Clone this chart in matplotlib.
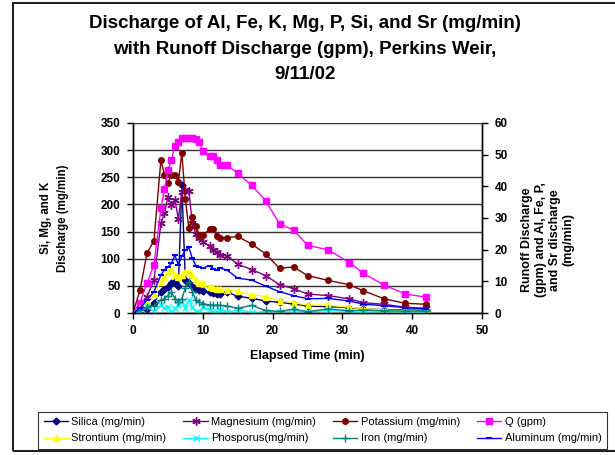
import matplotlib
matplotlib.use("Agg")
import matplotlib.pyplot as plt
from matplotlib.patches import Rectangle

plt.rcParams['font.family'] = ['Liberation Sans', 'DejaVu Sans']

time_min = [0, 1, 2, 3, 4, 4.5, 5, 5.5, 6, 6.5, 7, 7.5, 8, 8.5, 9, 9.5, 10, 11, 11.5,
            12, 12.5, 13.5, 15, 17, 19, 21, 23, 25, 28, 31, 33, 36, 39, 42]

# left axis (mg/min)
silica = [0, 3, 8, 19, 39, 44, 48, 55, 57, 50, 235, 60, 55, 50, 45, 42, 41, 39, 36,
          35, 35, 38, 31, 27, 22, 19.7, 16.6, 12.9, 11.7, 9.8, 8, 6, 5.5, 5]
magnesium = [0, 8, 30, 60, 165, 184, 214, 199, 208, 174, 223, 227, 225, 165, 145, 138, 130, 124, 116,
             112, 107, 105, 90, 80, 69, 52, 45, 35, 32, 26, 19, 16, 10.5, 8.6]
potassium = [0, 42, 110, 133, 282, 255, 240, 254, 255, 242, 294, 210, 156, 177, 160, 144, 144, 154, 154,
             142, 139, 139, 141, 127, 109, 82, 85, 69, 60, 52, 41, 26, 18, 16]

# right axis (gpm and mg/min)
q_gpm = [0, 3.3, 9.4, 15.2, 33, 39, 45, 48.3, 52.8, 54, 55.4, 55.4, 55.4, 55.4, 54.8, 54, 51.2, 49.7, 49.7,
         48.2, 46.7, 46.7, 44.1, 40.3, 35.5, 28.1, 26.2, 21.4, 19.9, 15.9, 12.5, 8.8, 6.0, 5.0]
strontium = [0, 1.5, 3.8, 6, 9.9, 11.5, 13, 13.6, 12, 11.5, 12, 13, 13, 12, 10.4, 9.6, 9.4, 8.3, 7.8,
             7.6, 7.5, 7.3, 6.8, 5.7, 5.2, 3.8, 3.3, 2.5, 2.5, 1.8, 1.4, 0.9, 0.7, 0.5]
phosphorus = [0, 0.5, 2.2, 0.4, 2.5, 1.5, 2, 0.1, 1.5, 2.5, 3.6, 1.5, 4.1, 2, 0.4, 0.2, 2, 1, 0.2,
              0.2, 1, 0.2, 1, 0.2, 0.4, 0.4, 0.7, 0.2, 0.9, 0.3, 0.3, 0.4, 0.3, 0.3]
iron = [0, 0.8, 1.8, 2.2, 4.1, 4.5, 5.5, 6.7, 4.5, 3.6, 4.5, 8, 9.9, 6.7, 4.1, 3.5, 3, 2.5, 2.5,
        2.5, 2.4, 2.2, 1.5, 2.4, 0.8, 0.5, 1.2, 0.4, 1.3, 0.7, 0.9, 0.7, 0.6, 0.6]
aluminum = [0, 1.5, 4.1, 6.7, 12, 13.6, 14.5, 15.7, 18.3, 15.2, 18, 19.9, 20.7, 17.3, 15, 14.5, 14.2, 15, 14,
            13.5, 14.2, 13.5, 11, 10.4, 8.5, 6.7, 5.5, 4.5, 4.6, 3.8, 2.8, 2.3, 1.7, 1.3]

x_ticks = [0, 10, 20, 30, 40, 50]
left_ticks = [0, 50, 100, 150, 200, 250, 300, 350]
right_ticks = [0, 10, 20, 30, 40, 50, 60]

fig = plt.figure(figsize=(6.15, 4.55), dpi=100)
ax = fig.add_axes([133/615, 1-313/455, (482-133)/615, (313-123)/455])
ax2 = ax.twinx()

lw = 1.0
ms = 4
ax.plot(time_min, silica, color='#000080', marker='D', ms=3.5, lw=lw, label='Silica (mg/min)')
ax.plot(time_min, magnesium, color='#800080', marker=(6, 2, 0), ms=6, mew=1, lw=lw, label='Magnesium (mg/min)')
ax.plot(time_min, potassium, color='#800000', marker='o', ms=ms, lw=lw, label='Potassium (mg/min)')
ax2.plot(time_min, q_gpm, color='#FF00FF', marker='s', ms=ms, lw=lw, label='Q (gpm)')
ax2.plot(time_min, strontium, color='#FFFF00', marker='^', ms=5, lw=lw, label='Strontium (mg/min)')
ax2.plot(time_min, phosphorus, color='#00FFFF', marker='x', ms=5, mew=1, lw=lw, label='Phosporus(mg/min)')
ax2.plot(time_min, iron, color='#008080', marker='+', ms=6, mew=1, lw=lw, label='Iron (mg/min)')
ax2.plot(time_min, aluminum, color='#0000FF', marker='_', ms=4, mew=1.5, lw=lw, label='Aluminum (mg/min)')

ax.set_xlim(0, 50)
ax.set_ylim(0, 350)
ax2.set_ylim(0, 60)
ax.set_xticks(x_ticks)
ax.set_yticks(left_ticks)
ax2.set_yticks(right_ticks)
ax.yaxis.grid(True, color='#333333', lw=1)
ax.set_axisbelow(True)

for a in (ax, ax2):
    a.spines['top'].set_visible(False)
    for s in ('left', 'right', 'bottom'):
        a.spines[s].set_color('black')
        a.spines[s].set_linewidth(1)
    a.tick_params(direction='out', length=4, width=1, labelsize=8.5, pad=5)
    for lab in a.get_xticklabels() + a.get_yticklabels():
        lab.set_fontweight('bold')

ax.set_xlabel('Elapsed Time (min)', fontsize=9, fontweight='bold', labelpad=9)
fig.text(0.089, 1-218/455, 'Si, Mg, and K\nDischarge (mg/min)', rotation=90, ha='center', va='center',
         fontsize=8.3, fontweight='bold', linespacing=1.5)
fig.text(0.891, 1-240/455, 'Runoff Discharge\n(gpm) and Al, Fe, P,\nand Sr discharge\n(mg/min)', rotation=90,
         ha='center', va='center', fontsize=9, fontweight='bold', linespacing=1.2)

fig.text(0.496, 1-49/455, 'Discharge of Al, Fe, K, Mg, P, Si, and Sr (mg/min)\nwith Runoff Discharge (gpm), Perkins Weir,\n9/11/02',
         ha='center', va='center', fontsize=13.5, fontweight='bold', linespacing=1.65)

h1, l1 = ax.get_legend_handles_labels()
h2, l2 = ax2.get_legend_handles_labels()
hd = dict(zip(l1 + l2, h1 + h2))
order = ['Silica (mg/min)', 'Strontium (mg/min)', 'Magnesium (mg/min)', 'Phosporus(mg/min)',
         'Potassium (mg/min)', 'Iron (mg/min)', 'Q (gpm)', 'Aluminum (mg/min)']
leg = fig.legend([hd[k] for k in order], order, ncol=4, loc='lower left',
                 bbox_to_anchor=(38/615, 1-449/455, (607-38)/615, 38/455), mode='expand',
                 fontsize=8, frameon=True, fancybox=False, handlelength=2.2, handletextpad=0.3,
                 borderpad=0.5, labelspacing=0.55, columnspacing=0.8, borderaxespad=0)
leg.get_frame().set_edgecolor('black')
leg.get_frame().set_linewidth(0.8)

fig.add_artist(Rectangle((13/615, 1-451/455), 1.0, (451-3)/455, transform=fig.transFigure,
                         fill=False, edgecolor='#222222', lw=1.5))

fig.savefig('out.png', dpi=100)
